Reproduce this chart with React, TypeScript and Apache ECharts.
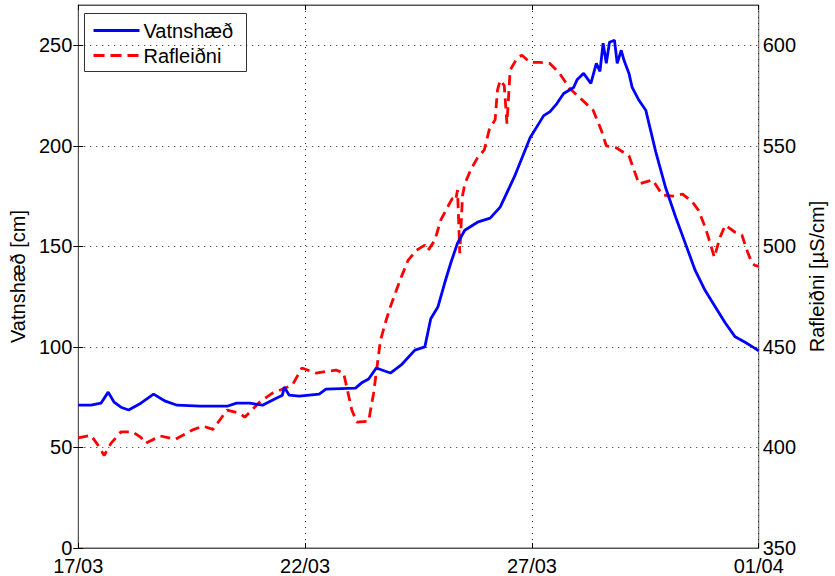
import React, { useEffect, useRef } from "react";
import * as echarts from "echarts";

// x: days since 17/03
const xTickLabels = ["17/03", "22/03", "27/03", "01/04"];
const seriesNames = ["Vatnshæð", "Rafleiðni"];
const seriesColors = ["#0000ff", "#ff0000"];

const vatnshaedDays = [
  0, 0.28, 0.5, 0.66, 0.79, 0.94, 1.11, 1.38, 1.66, 1.92, 2.18, 2.69, 3.28, 3.49, 3.78, 4.06,
  4.32, 4.5, 4.54, 4.65, 4.87, 5.31, 5.46, 6.11, 6.24, 6.4, 6.57, 6.88, 7.12, 7.42, 7.64,
  7.77, 7.93, 8.08, 8.21, 8.36, 8.52, 8.8, 9.08, 9.3, 9.61, 9.96, 10.26, 10.4, 10.55, 10.7,
  10.92, 11.0, 11.14, 11.3, 11.42, 11.5, 11.57, 11.64, 11.71, 11.82, 11.88, 11.97, 12.03,
  12.14, 12.21, 12.36, 12.51, 12.73, 12.95, 13.17, 13.38, 13.6, 13.82, 14.04, 14.26, 14.48,
  14.69, 14.91, 15
];
const vatnshaedValues = [
  71, 71, 72, 77.5, 72.5, 70, 68.6, 72, 76.5, 73, 71, 70.5, 70.5, 72, 72, 71,
  74, 76, 80, 76, 75.5, 76.5, 79, 79.5, 82, 84, 89.5, 87, 91, 98.4, 100,
  114, 120, 132, 141.6, 151.6, 158, 162, 164, 169.5, 184.4, 204, 215, 217, 221, 226,
  229, 233, 236, 231, 241, 237, 251, 241, 251.5, 252.5, 241, 247.5, 242.5,
  236, 229, 222.6, 217.7, 197, 179, 164.5, 151.6, 138, 128, 120, 112, 105,
  102.4, 99.4, 98
];

const rafleidniDays = [
  0, 0.28, 0.44, 0.57, 0.72, 0.94, 1.2, 1.38, 1.48, 1.81, 2.14, 2.51, 2.75, 2.97, 3.28, 3.56,
  3.67, 4.0, 4.28, 4.72, 4.93, 5.24, 5.68, 5.85, 6.03, 6.14, 6.4, 6.51, 6.66, 6.77, 6.88,
  7.01, 7.12, 7.27, 7.45, 7.64, 7.71, 7.86, 7.99, 8.14, 8.25, 8.32, 8.36, 8.41, 8.47, 8.52,
  8.65, 8.8, 8.95, 9.06, 9.19, 9.24, 9.3, 9.39, 9.45, 9.52, 9.67, 9.78, 9.96, 10.17, 10.39,
  10.61, 10.83, 11.05, 11.35, 11.53, 11.64, 11.86, 12.14, 12.36, 12.66, 12.88, 13.1, 13.32,
  13.54, 13.67, 13.82, 13.93, 14.02, 14.15, 14.26, 14.48, 14.63, 14.74, 14.85, 14.91, 15
];
const rafleidniValues = [
  404.7, 406, 401, 396, 402, 407.7, 407.7, 405, 402, 405.7, 404, 408.6, 410.6, 409, 418.6, 417,
  415, 422.6, 427, 431, 439.5, 437, 438.5, 437, 418.6, 412.6, 413, 427, 453, 462, 470,
  478, 484.7, 493, 498, 500.6, 498, 503, 513, 519.5, 524, 523, 528, 496.6, 525, 531,
  538, 544, 548, 558, 563, 577.6, 582.6, 580, 561, 587.6, 593.5, 595, 591.5, 591.5, 591,
  586, 578.6, 574, 567.7, 557.7, 550, 549, 545, 531, 533, 525.5, 525, 526,
  522, 518, 509.5, 501.6, 494.6, 504.6, 510.5, 507, 505.6, 498, 491.6, 490.6, 490
];

const FONT = "'Liberation Sans', Arial, sans-serif";
const DASH = [10, 6];

export default function App() {
  const ref = useRef<HTMLDivElement>(null);
  useEffect(() => {
    if (!ref.current) return;
    const chart = echarts.init(ref.current, null, { renderer: "svg" });
    const axisColor = "#555";
    const gridLine = { show: true, lineStyle: { color: "#222", type: [1, 5], width: 1 } };
    const legendX = 84, legendY = 13;
    chart.setOption({
      animation: false,
      backgroundColor: "#fff",
      textStyle: { fontFamily: FONT },
      grid: {
        left: 77, right: 71, top: 5, bottom: 28,
        show: true, borderColor: axisColor, borderWidth: 1,
      },
      graphic: [
        {
          type: "group", left: legendX, top: legendY, z: 100,
          children: [
            {
              type: "rect", shape: { x: 0, y: 0, width: 162, height: 58 },
              style: { fill: "#fff", stroke: "#333", lineWidth: 1 },
            },
            {
              type: "line", shape: { x1: 9, y1: 17, x2: 55, y2: 17 },
              style: { stroke: seriesColors[0], lineWidth: 2.8 },
            },
            {
              type: "text", x: 59, y: 17,
              style: { text: seriesNames[0], font: `20px ${FONT}`, fill: "#000", verticalAlign: "middle" },
            },
            {
              type: "line", shape: { x1: 9, y1: 42, x2: 55, y2: 42 },
              style: { stroke: seriesColors[1], lineWidth: 2.8, lineDash: [11, 6] },
            },
            {
              type: "text", x: 59, y: 42,
              style: { text: seriesNames[1], font: `20px ${FONT}`, fill: "#000", verticalAlign: "middle" },
            },
          ],
        },
      ],
      xAxis: [
        {
          type: "value", min: 0, max: 15, interval: 5,
          axisLine: { show: true, lineStyle: { color: axisColor } },
          axisTick: { show: true, inside: true, length: 5, lineStyle: { color: "#000" } },
          axisLabel: {
            fontSize: 20, lineHeight: 16, color: "#000", margin: 10, fontFamily: FONT,
            formatter: (v: number) => xTickLabels[Math.round(v / 5)] ?? "",
          },
          splitLine: gridLine,
        },
        {
          type: "value", min: 0, max: 15, interval: 5, position: "top",
          axisLine: { show: true, lineStyle: { color: axisColor } },
          axisTick: { show: true, inside: true, length: 5, lineStyle: { color: "#000" } },
          axisLabel: { show: false },
          splitLine: { show: false },
        },
      ],
      yAxis: [
        {
          type: "value", min: 0, max: 270, interval: 50, position: "left",
          name: "Vatnshæð [cm]", nameLocation: "middle", nameRotate: 90, nameGap: 42,
          nameTextStyle: { fontSize: 20, color: "#000", fontFamily: FONT },
          axisLine: { show: true, lineStyle: { color: axisColor } },
          axisTick: { show: true, inside: true, length: 5, lineStyle: { color: "#000" } },
          axisLabel: { fontSize: 20, lineHeight: 16, color: "#000", margin: 6, showMaxLabel: false, fontFamily: FONT },
          splitLine: gridLine,
        },
        {
          type: "value", min: 350, max: 620, interval: 50, position: "right",
          name: "Rafleiðni [µS/cm]", nameLocation: "middle", nameRotate: 90, nameGap: 46,
          nameTextStyle: { fontSize: 20, color: "#000", fontFamily: FONT },
          axisLine: { show: true, lineStyle: { color: axisColor } },
          axisTick: { show: true, inside: true, length: 5, lineStyle: { color: "#000" } },
          axisLabel: { fontSize: 20, lineHeight: 16, color: "#000", margin: 4, showMaxLabel: false, fontFamily: FONT },
          splitLine: { show: false },
        },
      ],
      series: [
        {
          name: seriesNames[0], type: "line", xAxisIndex: 0, yAxisIndex: 0,
          showSymbol: false, symbol: "none",
          data: vatnshaedDays.map((d, i) => [d, vatnshaedValues[i]]),
          lineStyle: { color: seriesColors[0], width: 2.8 },
          itemStyle: { color: seriesColors[0] },
          z: 3,
        },
        {
          name: seriesNames[1], type: "line", xAxisIndex: 0, yAxisIndex: 1,
          showSymbol: false, symbol: "none",
          data: rafleidniDays.map((d, i) => [d, rafleidniValues[i]]),
          lineStyle: { color: seriesColors[1], width: 2.8, type: DASH },
          itemStyle: { color: seriesColors[1] },
          z: 2,
        },
      ],
    });
    return () => chart.dispose();
  }, []);
  return <div ref={ref} style={{ width: 835, height: 576, position: "absolute", left: 0, top: 0 }} />;
}
